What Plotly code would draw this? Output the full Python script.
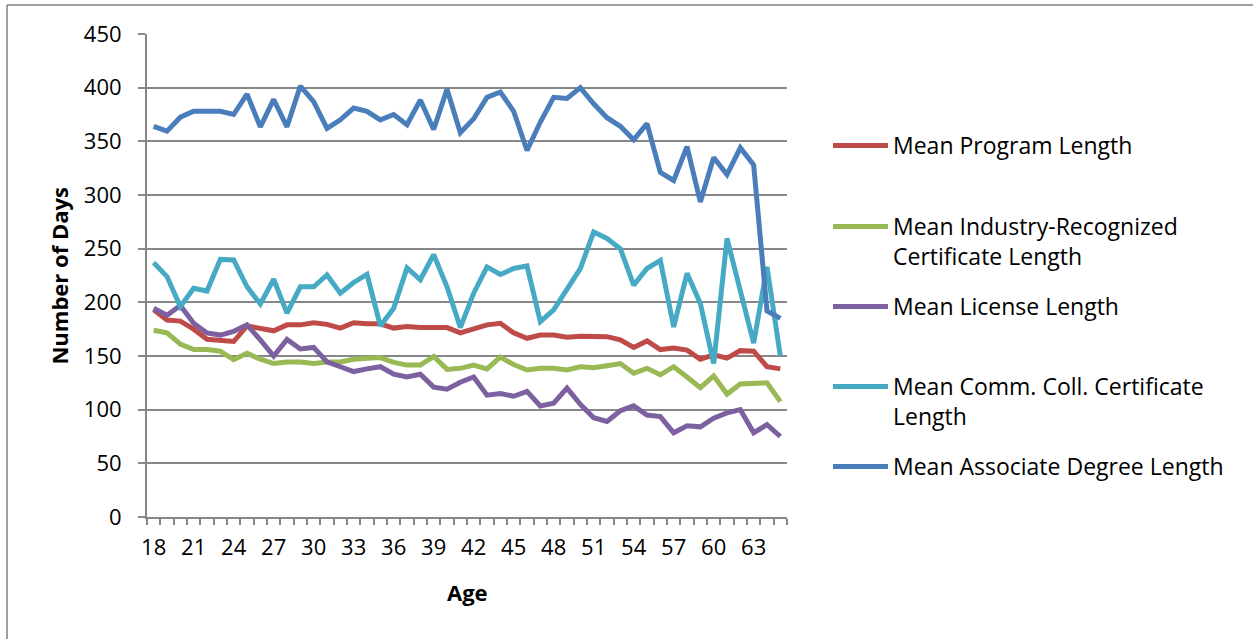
import plotly.graph_objects as go

ages = list(range(18, 66))

program_len = [193, 183.5, 182.5, 175, 165.5, 164.5, 163.5, 178, 176, 173.5, 179, 179,
               181, 179.5, 176, 181, 180, 180, 176, 177.5, 176.5, 176, 176.5, 171.5,
               175.5, 179, 180.5, 171.5, 166.5, 169.5, 169.5, 167.5, 168.5, 168, 168, 165,
               158, 164, 156, 157.5, 155.5, 147, 151, 148, 155, 154.5, 140, 138]

industry_cert_len = [174, 171.5, 161, 156, 156, 154.5, 146.5, 152.5, 147, 143, 144.5, 144.5,
                     143, 144.5, 144.5, 147, 148, 148.5, 144, 141.5, 141.5, 149.5, 137.5, 138.5,
                     141.5, 138, 149, 142, 137, 138.5, 138.5, 137, 140, 139, 141, 143,
                     134, 138.5, 132.5, 140, 130.5, 120.5, 131.5, 114.5, 124, 124, 125, 107.5]

license_len = [194.5, 188, 197, 180.5, 171.5, 169.5, 173, 179, 165, 150, 165.5, 156.5,
               158, 144.5, 140, 135.5, 138, 140, 133, 130.5, 133, 121, 119, 125.5,
               130.5, 113.5, 115, 112.5, 117, 103.5, 106, 120, 105, 92.5, 89, 99,
               103.5, 95, 93.5, 78.5, 85, 84, 92, 97, 100, 78.5, 86, 75]

comm_coll_cert_len = [237, 224, 196, 213, 210.5, 240, 239.5, 214.5, 198.5, 221.5, 190, 214.5,
                      214.5, 225.5, 208.5, 218.5, 226, 178, 194.5, 232, 221, 244.5, 214.5, 176.5,
                      208.5, 233, 226, 231.5, 234, 182, 193, 213, 231.5, 265.5, 259.5, 250,
                      216, 231.5, 239, 177, 227, 199, 143, 259.5, 213, 162, 233, 150]

associate_len = [364, 359.5, 372.5, 378, 378, 378, 375, 394, 363.5, 389, 363.5, 401.5,
                 387, 362, 370, 381, 378, 370, 375, 365.5, 388.5, 361, 398.5, 358,
                 371, 391, 396, 378, 341.5, 368, 391, 390, 400, 385, 372, 364,
                 351.5, 366.5, 321, 313.5, 345, 293.5, 335, 319, 344, 328, 192, 185]

series_names = [
    "Mean Program Length",
    "Mean Industry-Recognized<br>Certificate Length",
    "Mean License Length",
    "Mean Comm. Coll. Certificate<br>Length",
    "Mean Associate Degree Length",
]
series_values = [program_len, industry_cert_len, license_len, comm_coll_cert_len, associate_len]
series_colors = ["#BE4B48", "#98B954", "#7D60A0", "#46AAC5", "#4A7EBB"]

y_ticks = list(range(0, 451, 50))
x_ticks = list(range(18, 64, 3))

W, H = 1253, 639
FONT = "Open Sans"
GRID = "#878787"

fig = go.Figure()
legend_keys = ["legend", "legend2", "legend3", "legend4", "legend5"]
for name, vals, color, lg in zip(series_names, series_values, series_colors, legend_keys):
    fig.add_trace(go.Scatter(
        x=ages, y=vals, name=name, mode="lines",
        line=dict(color=color, width=5),
        legend=lg,
    ))

# each legend entry sits on its own evenly spaced row
row_centres = [145, 226, 306, 386, 466]
legend_layout = {}
for lg, yc in zip(legend_keys, row_centres):
    legend_layout[lg] = dict(
        xref="container", yref="container",
        x=828 / W, y=1 - (yc - 21) / H,
        xanchor="left", yanchor="top",
        valign="top", itemwidth=55,
        font=dict(family=FONT, size=23, color="#000"),
        bgcolor="rgba(0,0,0,0)", borderwidth=0,
    )

fig.update_layout(
    width=W, height=H,
    margin=dict(l=147, r=W - 787, t=34, b=H - 517),
    plot_bgcolor="white", paper_bgcolor="white",
    font=dict(family=FONT, size=22, color="#000"),
    showlegend=True,
    **legend_layout,
)

fig.update_xaxes(
    range=[17.5, 65.5],
    tickmode="array", tickvals=x_ticks, ticktext=[str(v) for v in x_ticks],
    ticks="", showgrid=False, zeroline=False,
    showline=True, linecolor=GRID, linewidth=2,
    ticklabelstandoff=10,
    minor=dict(ticks="outside", tick0=17.5, dtick=1, ticklen=6,
               tickcolor=GRID, tickwidth=1.5, showgrid=False),
    tickfont=dict(family=FONT, size=22, color="#000"),
)
fig.update_yaxes(
    range=[0, 450],
    tickmode="array", tickvals=y_ticks,
    ticks="outside", ticklen=7, tickcolor=GRID, tickwidth=1.5,
    showgrid=True, gridcolor=GRID, gridwidth=2,
    zeroline=False, showline=True, linecolor=GRID, linewidth=2,
    ticklabelstandoff=12,
    tickfont=dict(family=FONT, size=22, color="#000"),
)

fig.add_annotation(
    text="<b>Number of Days</b>", textangle=-90,
    xref="paper", yref="paper", x=-0.139, y=0.5,
    xanchor="center", yanchor="middle", showarrow=False,
    font=dict(family=FONT, size=22, color="#000"),
)
fig.add_annotation(
    text="<b>Age</b>",
    xref="paper", yref="paper", x=(467 - 147) / (787 - 147), y=-0.155,
    xanchor="center", yanchor="middle", showarrow=False,
    font=dict(family=FONT, size=22, color="#000"),
)

# outer chart frame
fig.add_shape(type="line", xref="paper", yref="paper",
              x0=(7 - 147) / 640, x1=(W + 5 - 147) / 640,
              y0=(517 - 5) / 483, y1=(517 - 5) / 483,
              line=dict(color="#7f7f7f", width=1.5))
fig.add_shape(type="line", xref="paper", yref="paper",
              x0=(7 - 147) / 640, x1=(7 - 147) / 640,
              y0=(517 - 5) / 483, y1=(517 - H - 5) / 483,
              line=dict(color="#7f7f7f", width=1.5))

fig.write_html("out.html")
